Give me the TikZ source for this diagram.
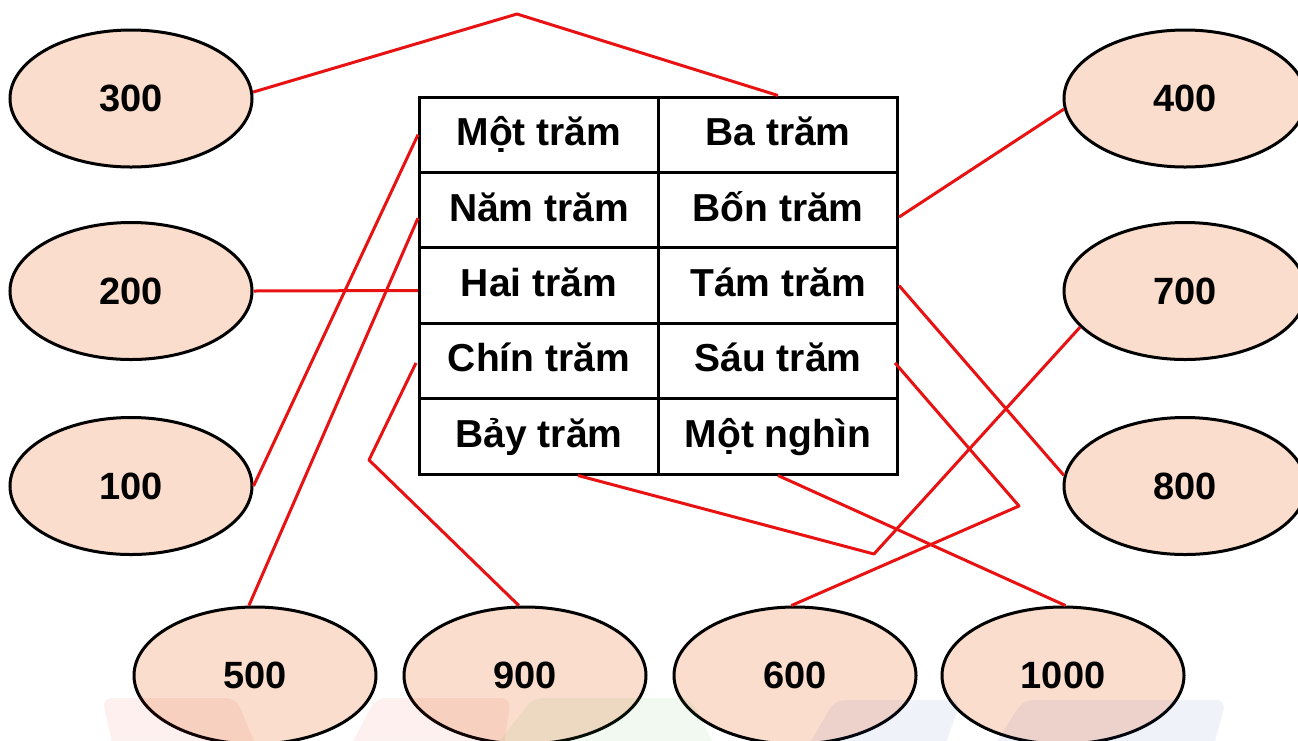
\documentclass[tikz,border=0pt]{standalone}
\usepackage{fontspec}
\setmainfont{Liberation Sans}
\usetikzlibrary{shapes.geometric,calc}
\definecolor{peach}{RGB}{250,221,204}
\definecolor{linered}{RGB}{232,18,18}
\definecolor{wmred}{RGB}{229,57,53}
\definecolor{wmgreen}{RGB}{76,175,80}
\definecolor{wmblue}{RGB}{63,81,181}
\begin{document}
\begin{tikzpicture}[x=1pt,y=-1pt,
  num/.style={ellipse, draw, line width=3pt, fill=peach, minimum width=242pt,
    minimum height=137pt, inner sep=0pt, font=\fontsize{38}{40}\selectfont\bfseries},
  cell/.style={draw, line width=3pt, minimum width=239pt, minimum height=75.4pt,
    inner sep=0pt, text height=30pt, text depth=8pt,
    font=\fontsize{39}{41}\selectfont\bfseries},
  link/.style={draw=linered, line width=3pt, line join=round},
  wm/.style={fill opacity=0.075, rounded corners=10pt}
]
\useasboundingbox (0,0) rectangle (1298,740);
\fill[white] (0,0) rectangle (1298,740);

% table
\node[cell] (c11) at (539,134.7) {Một trăm};
\node[cell] (c12) at (778,134.7) {Ba trăm};
\node[cell] (c21) at (539,210.1) {Năm trăm};
\node[cell] (c22) at (778,210.1) {Bốn trăm};
\node[cell] (c31) at (539,285.5) {Hai trăm};
\node[cell] (c32) at (778,285.5) {Tám trăm};
\node[cell] (c41) at (539,360.9) {Chín trăm};
\node[cell] (c42) at (778,360.9) {Sáu trăm};
\node[cell] (c51) at (539,436.3) {Bảy trăm};
\node[cell] (c52) at (778,436.3) {Một nghìn};

% ellipses
\node[num] (n300) at (131,98.5) {300};
\node[num] (n200) at (131,291) {200};
\node[num] (n100) at (131,486) {100};
\node[num] (n400) at (1185,98.5) {400};
\node[num] (n700) at (1185,291) {700};
\node[num] (n800) at (1185,486) {800};
\node[num] (n500) at (255,675.5) {500};
\node[num] (n900) at (525,675.5) {900};
\node[num] (n600) at (795,675.5) {600};
\node[num] (n1000) at (1063,675.5) {1000};

% bend points
\coordinate (b1) at (517,14);
\coordinate (b6) at (369,460);
\coordinate (b8) at (1019,506);
\coordinate (b9) at (874,554);

% connectors
\draw[link] (n300.3) -- (b1) -- (c12.north);
\draw[link] (n400.185) -- ($(c22.east)+(0,7)$);
\draw[link] (n200.east) -- ($(c31.west)+(0,5)$);
\draw[link] (n100.east) -- (c11.west);
\draw[link] (n500.95) -- ($(c21.west)+(0,8)$);
\draw[link] (n900.95) -- (b6) -- ($(c41.west)+(-2,2)$);
\draw[link] (c32.east) -- (n800.175);
\draw[link] ($(c42.east)+(-4,2)$) -- (b8) -- (n600.93);
\draw[link] (n700.199) -- (b9) -- ($(c51.south)+(39,0)$);
\draw[link] (c52.south) -- (n1000.88);

% faint watermark
\fill[wm, wmred] (102,698) -- (236,698) -- (262,760) -- (116,760) -- cycle;
\fill[wm, wmred] (376,698) -- (511,698) -- (502,760) -- (343,760) -- cycle;
\fill[wm, wmgreen] (533,698) -- (690,698) -- (722,760) -- (485,760) -- cycle;
\fill[wm, wmblue] (835,700) -- (961,700) -- (940,760) -- (800,760) -- cycle;
\fill[wm, wmblue] (1023,700) -- (1226,700) -- (1210,760) -- (985,760) -- cycle;
\end{tikzpicture}
\end{document}
